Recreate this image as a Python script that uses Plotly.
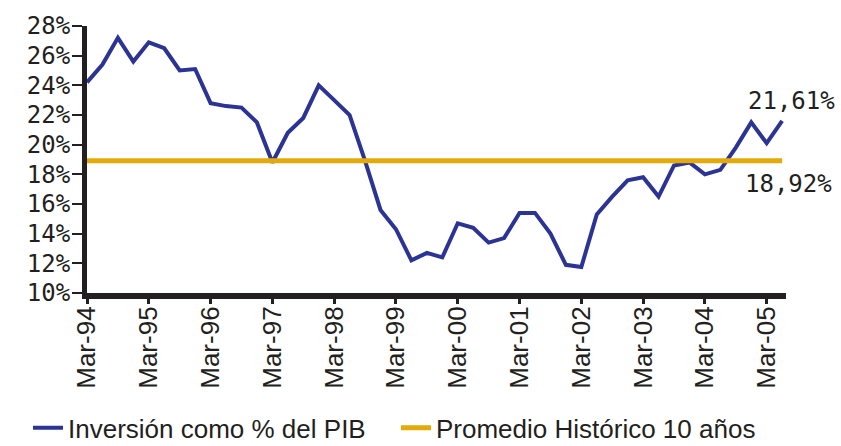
import plotly.graph_objects as go

quarters = [
    "Mar-94", "Jun-94", "Sep-94", "Dec-94",
    "Mar-95", "Jun-95", "Sep-95", "Dec-95",
    "Mar-96", "Jun-96", "Sep-96", "Dec-96",
    "Mar-97", "Jun-97", "Sep-97", "Dec-97",
    "Mar-98", "Jun-98", "Sep-98", "Dec-98",
    "Mar-99", "Jun-99", "Sep-99", "Dec-99",
    "Mar-00", "Jun-00", "Sep-00", "Dec-00",
    "Mar-01", "Jun-01", "Sep-01", "Dec-01",
    "Mar-02", "Jun-02", "Sep-02", "Dec-02",
    "Mar-03", "Jun-03", "Sep-03", "Dec-03",
    "Mar-04", "Jun-04", "Sep-04", "Dec-04",
    "Mar-05", "Jun-05",
]

inversion_pib = [
    24.2, 25.4, 27.2, 25.6,
    26.9, 26.5, 25.0, 25.1,
    22.8, 22.6, 22.5, 21.5,
    18.8, 20.8, 21.8, 24.0,
    23.0, 22.0, 18.9, 15.6,
    14.3, 12.2, 12.7, 12.4,
    14.7, 14.4, 13.4, 13.7,
    15.4, 15.4, 14.0, 11.9,
    11.75, 15.3, 16.5, 17.6,
    17.8, 16.5, 18.6, 18.8,
    18.0, 18.3, 19.8, 21.5,
    20.1, 21.61,
]

promedio_historico = 18.92

x_tick_labels = ["Mar-94", "Mar-95", "Mar-96", "Mar-97", "Mar-98", "Mar-99",
                 "Mar-00", "Mar-01", "Mar-02", "Mar-03", "Mar-04", "Mar-05"]
y_tick_values = [10, 12, 14, 16, 18, 20, 22, 24, 26, 28]
y_tick_labels = ["10%", "12%", "14%", "16%", "18%", "20%", "22%", "24%", "26%", "28%"]

label_last = "21,61%"
label_avg = "18,92%"

BLUE = "#2B3394"
GOLD = "#E3AA0B"
INK = "#231F20"

fig = go.Figure()
fig.add_trace(go.Scatter(
    x=quarters, y=inversion_pib, mode="lines",
    name="Inversión como % del PIB",
    line=dict(color=BLUE, width=4),
))
fig.add_trace(go.Scatter(
    x=[quarters[0], quarters[-1]], y=[promedio_historico, promedio_historico],
    mode="lines", name="Promedio Histórico 10 años",
    line=dict(color=GOLD, width=5),
))

fig.add_annotation(x=1.008, y=22.95, xref="paper", yref="y", text=label_last,
                   showarrow=False, xanchor="center", yanchor="middle",
                   font=dict(family="DejaVu Sans Mono", size=24, color=INK))
fig.add_annotation(x=1.003, y=17.35, xref="paper", yref="y", text=label_avg,
                   showarrow=False, xanchor="center", yanchor="middle",
                   font=dict(family="DejaVu Sans Mono", size=24, color=INK))

fig.update_layout(
    width=841, height=446, autosize=False,
    margin=dict(l=87, r=55, t=26, b=153, autoexpand=False),
    paper_bgcolor="white", plot_bgcolor="white",
    showlegend=True,
    legend=dict(
        orientation="h", xref="paper", yref="paper",
        x=-0.0844, y=-0.505, xanchor="left", yanchor="middle",
        font=dict(family="Liberation Sans", size=26, color=INK),
        itemwidth=30, entrywidth=323, entrywidthmode="pixels",
        tracegroupgap=0, bgcolor="rgba(0,0,0,0)",
    ),
)
fig.update_xaxes(
    type="category", categoryorder="array", categoryarray=quarters,
    range=[0, 45.25],
    tickmode="array", tickvals=x_tick_labels, ticktext=x_tick_labels,
    tickangle=-90, ticks="outside", ticklen=5, tickwidth=3, tickcolor=INK,
    ticklabelstandoff=-8,
    tickfont=dict(family="Liberation Sans", size=26, color=INK),
    showline=True, linecolor=INK, linewidth=6,
    showgrid=False, zeroline=False,
)
fig.update_yaxes(
    range=[10, 28],
    tickmode="array", tickvals=y_tick_values, ticktext=y_tick_labels,
    ticks="outside", ticklen=10, tickwidth=2, tickcolor=INK,
    ticklabelstandoff=-3,
    tickfont=dict(family="DejaVu Sans Mono", size=24, color=INK),
    showline=True, linecolor=INK, linewidth=5,
    showgrid=False, zeroline=False,
)

fig.write_html("out.html", config={"displayModeBar": False},
               post_script="document.body.style.margin='0';")
